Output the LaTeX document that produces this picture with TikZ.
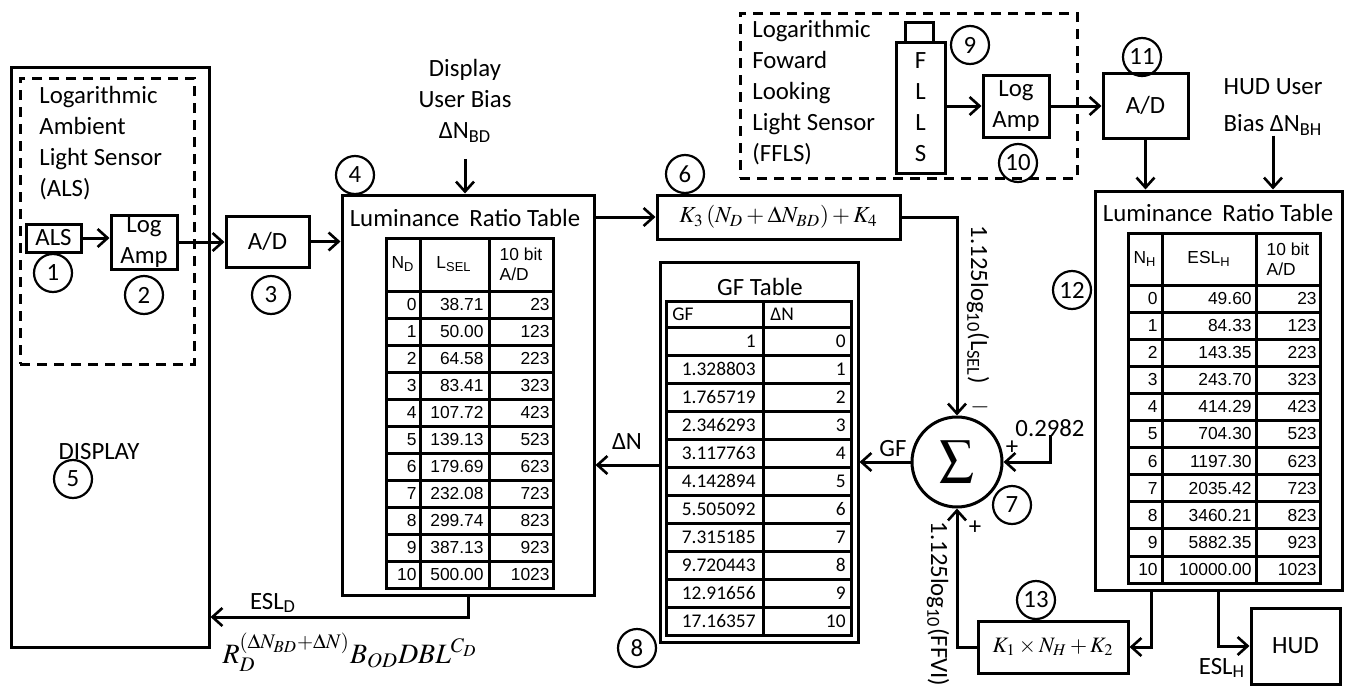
\documentclass[tikz,border=0pt]{standalone}
\usepackage{amsmath}
\usepackage{mathptmx}
\usepackage{fontspec}
\setmainfont{Carlito}
\newfontfamily\arialfont{Liberation Sans}
\usetikzlibrary{arrows.meta,positioning}

\tikzset{
  box/.style={draw, line width=1.5pt, inner sep=0pt, align=center, font=\fontsize{12.4}{15.5}\selectfont},
  dbox/.style={draw, line width=1.5pt, dash pattern=on 5pt off 3.5pt, inner sep=0pt},
  num/.style={draw, circle, line width=1.1pt, minimum size=19pt, inner sep=0pt, font=\fontsize{12.4}{15}\selectfont},
  lbl/.style={inner sep=0pt, align=left, font=\fontsize{12.4}{15.5}\selectfont},
  arr/.style={line width=1.5pt, -{Straight Barb[length=5pt,width=9pt,line width=1.3pt]}},
  ln/.style={line width=1.5pt},
  cell/.style={inner sep=0pt, anchor=east, font=\arialfont\fontsize{8.7}{10}\selectfont},
  gcell/.style={inner sep=0pt, anchor=east, font=\fontsize{9.7}{11}\selectfont},
}

\begin{document}
\begin{tikzpicture}[x=0.5pt, y=-0.5pt]
\useasboundingbox (0,0) rectangle (1345,686);

% display and ambient light sensor
\node[box, minimum width=99pt, minimum height=290pt] (display) at (110,357) {};
\node[dbox, minimum width=87pt, minimum height=143pt] (alsgroup) at (107,221) {};
\node[lbl, anchor=west] (alstxt) at (39,143) {Logarithmic\\Ambient\\Light Sensor\\(ALS)};
\node[box, minimum width=27.5pt, minimum height=14pt] (als) at (53.5,238) {ALS};
\node[box, minimum width=33pt, minimum height=27pt] (logamp1) at (144,242) {Log\\Amp};
\node[box, minimum width=41.5pt, minimum height=25.5pt] (ad1) at (267.5,241.5) {A/D};
\node[lbl] (disptxt) at (99,452) {DISPLAY};
\node[num] (c1) at (53,273) {1};
\node[num] (c2) at (144,295) {2};
\node[num] (c3) at (271,295) {3};
\node[num] (c5) at (73,479) {5};

% display luminance ratio table
\node[box, minimum width=126pt, minimum height=200pt] (lrt1) at (468,395) {};
\node[lbl] (title1) at (465,218) {Luminance\hspace{0.4em}Ratio Table};
\node[num] (c4) at (355,175) {4};
\node[lbl, align=center] (bias1) at (465,101) {Display\\User Bias\\ΔN\textsubscript{BD}};
\draw[ln] (386,238) rectangle (553,588);
\draw[ln] (420,238) -- (420,588);
\draw[ln] (489,238) -- (489,588);
\foreach \k in {0,...,10}
  \draw[ln] (386,{291+27*\k}) -- (553,{291+27*\k});
\node[cell, anchor=center] (h1a) at (403,264) {N\textsubscript{D}};
\node[cell, anchor=center] (h1b) at (454,264) {L\textsubscript{SEL}};
\node[cell, anchor=center, align=left] (h1c) at (521,264) {10 bit\\A/D};
\foreach \n/\l/\a [count=\k from 0] in {0/38.71/23, 1/50.00/123, 2/64.58/223, 3/83.41/323,
    4/107.72/423, 5/139.13/523, 6/179.69/623, 7/232.08/723, 8/299.74/823, 9/387.13/923, 10/500.00/1023} {
  \node[cell] (ta\k) at (417,{304.5+27*\k}) {\n};
  \node[cell] (tb\k) at (484,{304.5+27*\k}) {\l};
  \node[cell] (tc\k) at (550,{304.5+27*\k}) {\a};
}

% offset formula and gain factor table
\node[box, minimum width=121.5pt, minimum height=22pt] (f6) at (778.5,217) {\fontsize{11.5}{12}\selectfont$K_3\left(N_D+\Delta N_{BD}\right)+K_4$};
\node[num] (c6) at (685,174) {6};
\node[box, minimum width=99pt, minimum height=190pt] (gft) at (759,452) {};
\node[lbl] (gftitle) at (760,287) {GF Table};
\draw[ln] (666,301) rectangle (851,635);
\draw[ln] (763,301) -- (763,635);
\foreach \k in {0,...,10}
  \draw[ln] (666,{327+28*\k}) -- (851,{327+28*\k});
\node[gcell, anchor=west] (h2a) at (672,314) {GF};
\node[gcell, anchor=west] (h2b) at (770,314) {ΔN};
\foreach \g/\d [count=\k from 0] in {1/0, 1.328803/1, 1.765719/2, 2.346293/3, 3.117763/4, 4.142894/5,
    5.505092/6, 7.315185/7, 9.720443/8, 12.91656/9, 17.16357/10} {
  \node[gcell] (ga\k) at (756,{341+28*\k}) {\g};
  \node[gcell] (gb\k) at (846,{341+28*\k}) {\d};
}
\node[num] (c8) at (637,648) {8};

% summing junction
\node[draw, circle, line width=1.5pt, minimum size=45pt, inner sep=0pt] (sum) at (957,462) {\fontsize{17}{17}\selectfont$\displaystyle\sum$};
\node[num] (c7) at (1012,505) {7};
\node[lbl] (pconst) at (1050,428) {0.2982};
\node[lbl] (minus) at (980,407) {$-$};
\node[lbl] (plus1) at (1012,448) {+};
\node[lbl] (plus2) at (975,528) {+};
\node[lbl, rotate=-90] (lsellbl) at (978,305) {1.125log\textsubscript{10}(L\textsubscript{SEL})};
\node[lbl, rotate=-90] (ffvilbl) at (938,604) {1.125log\textsubscript{10}(FFVI)};
\node[lbl] (gflbl) at (893,449) {GF};
\node[lbl] (dnlbl) at (627,442) {ΔN};
\node[lbl] (esld) at (273,603) {ESL\textsubscript{D}};
\node[inner sep=0pt] (esldf) at (350,652) {\fontsize{14}{14}\selectfont$R_D^{(\Delta N_{BD}+\Delta N)}B_{OD}DBL^{C_D}$};
\node[box, minimum width=75pt, minimum height=26pt] (k1) at (1053,647) {\fontsize{11}{12}\selectfont$K_1\times N_H+K_2$};
\node[num] (c13) at (1036,600) {13};

% forward looking light sensor
\node[dbox, minimum width=168.5pt, minimum height=82.5pt] (fflsgroup) at (908.5,95.5) {};
\node[lbl, anchor=west] (fflstxt) at (752,93) {Logarithmic\\Foward\\Looking\\Light Sensor\\(FFLS)};
\node[box, minimum width=24.5pt, minimum height=65.5pt] (ffls) at (920.5,107.5) {F\\L\\L\\S};
\node[box, minimum width=14pt, minimum height=10pt] (fflscap) at (919,32) {};
\node[box, minimum width=33pt, minimum height=31pt] (logamp2) at (1016,106) {Log\\Amp};
\node[box, minimum width=42.5pt, minimum height=32.5pt] (ad2) at (1145.5,105.5) {A/D};
\node[num] (c9) at (970,45) {9};
\node[num] (c10) at (1018,163) {10};
\node[num] (c11) at (1142,57) {11};
\node[lbl, align=center] (hudbias) at (1273,107) {HUD User\\[3pt]Bias ΔN\textsubscript{BH}};

% hud luminance ratio table
\node[box, minimum width=123.5pt, minimum height=199.5pt] (lrt2) at (1218.5,390.5) {};
\node[lbl] (title2) at (1218,213) {Luminance\hspace{0.4em}Ratio Table};
\node[num] (c12) at (1072,290) {12};
\draw[ln] (1128,233) rectangle (1320,583);
\draw[ln] (1162,233) -- (1162,583);
\draw[ln] (1256,233) -- (1256,583);
\foreach \k in {0,...,10}
  \draw[ln] (1128,{285+27.1*\k}) -- (1320,{285+27.1*\k});
\node[cell, anchor=center] (h3a) at (1145,259) {N\textsubscript{H}};
\node[cell, anchor=center] (h3b) at (1209,259) {ESL\textsubscript{H}};
\node[cell, anchor=center, align=left] (h3c) at (1288,259) {10 bit\\A/D};
\foreach \n/\l/\a [count=\k from 0] in {0/49.60/23, 1/84.33/123, 2/143.35/223, 3/243.70/323,
    4/414.29/423, 5/704.30/523, 6/1197.30/623, 7/2035.42/723, 8/3460.21/823, 9/5882.35/923, 10/10000.00/1023} {
  \node[cell] (ua\k) at (1158,{298.5+27.1*\k}) {\n};
  \node[cell] (ub\k) at (1252,{298.5+27.1*\k}) {\l};
  \node[cell] (uc\k) at (1317,{298.5+27.1*\k}) {\a};
}
\node[box, minimum width=44.5pt, minimum height=38pt] (hud) at (1295.5,646) {HUD};
\node[lbl] (eslh) at (1222,668) {ESL\textsubscript{H}};

% connectors
\draw[arr] (als.east) -- (logamp1.west |- als.east);
\draw[arr] (logamp1.east) -- (ad1.west |- logamp1.east);
\draw[arr] (ad1.east) -- (lrt1.west |- ad1.east);
\draw[arr] ([yshift=-8pt]bias1.south) -- (bias1.south |- lrt1.north);
\draw[arr] (lrt1.east |- f6.west) -- (f6.west);
\draw[arr] (f6.east) -| (sum.north);
\draw[arr] (pconst.south) ++(0,-2) |- (sum.east);
\draw[arr] (k1.west) -| (sum.south);
\draw[arr] (sum.west) -- (gft.east |- sum.west);
\draw[arr] (gft.west |- 0,465) -- (lrt1.east |- 0,465);
\draw[arr] (lrt1.south) -- (lrt1.south |- 0,617) -- (display.east |- 0,617);
\draw[arr] (ffls.east |- logamp2.west) -- (logamp2.west);
\draw[arr] (logamp2.east) -- (ad2.west |- logamp2.east);
\draw[arr] (ad2.south) -- (ad2.south |- lrt2.north);
\draw[arr] (hudbias.south) -- (hudbias.south |- lrt2.north);
\draw[arr] ([xshift=-33.75pt]lrt2.south) |- (k1.east);
\draw[arr] (lrt2.south) |- (hud.west);
\end{tikzpicture}
\end{document}
